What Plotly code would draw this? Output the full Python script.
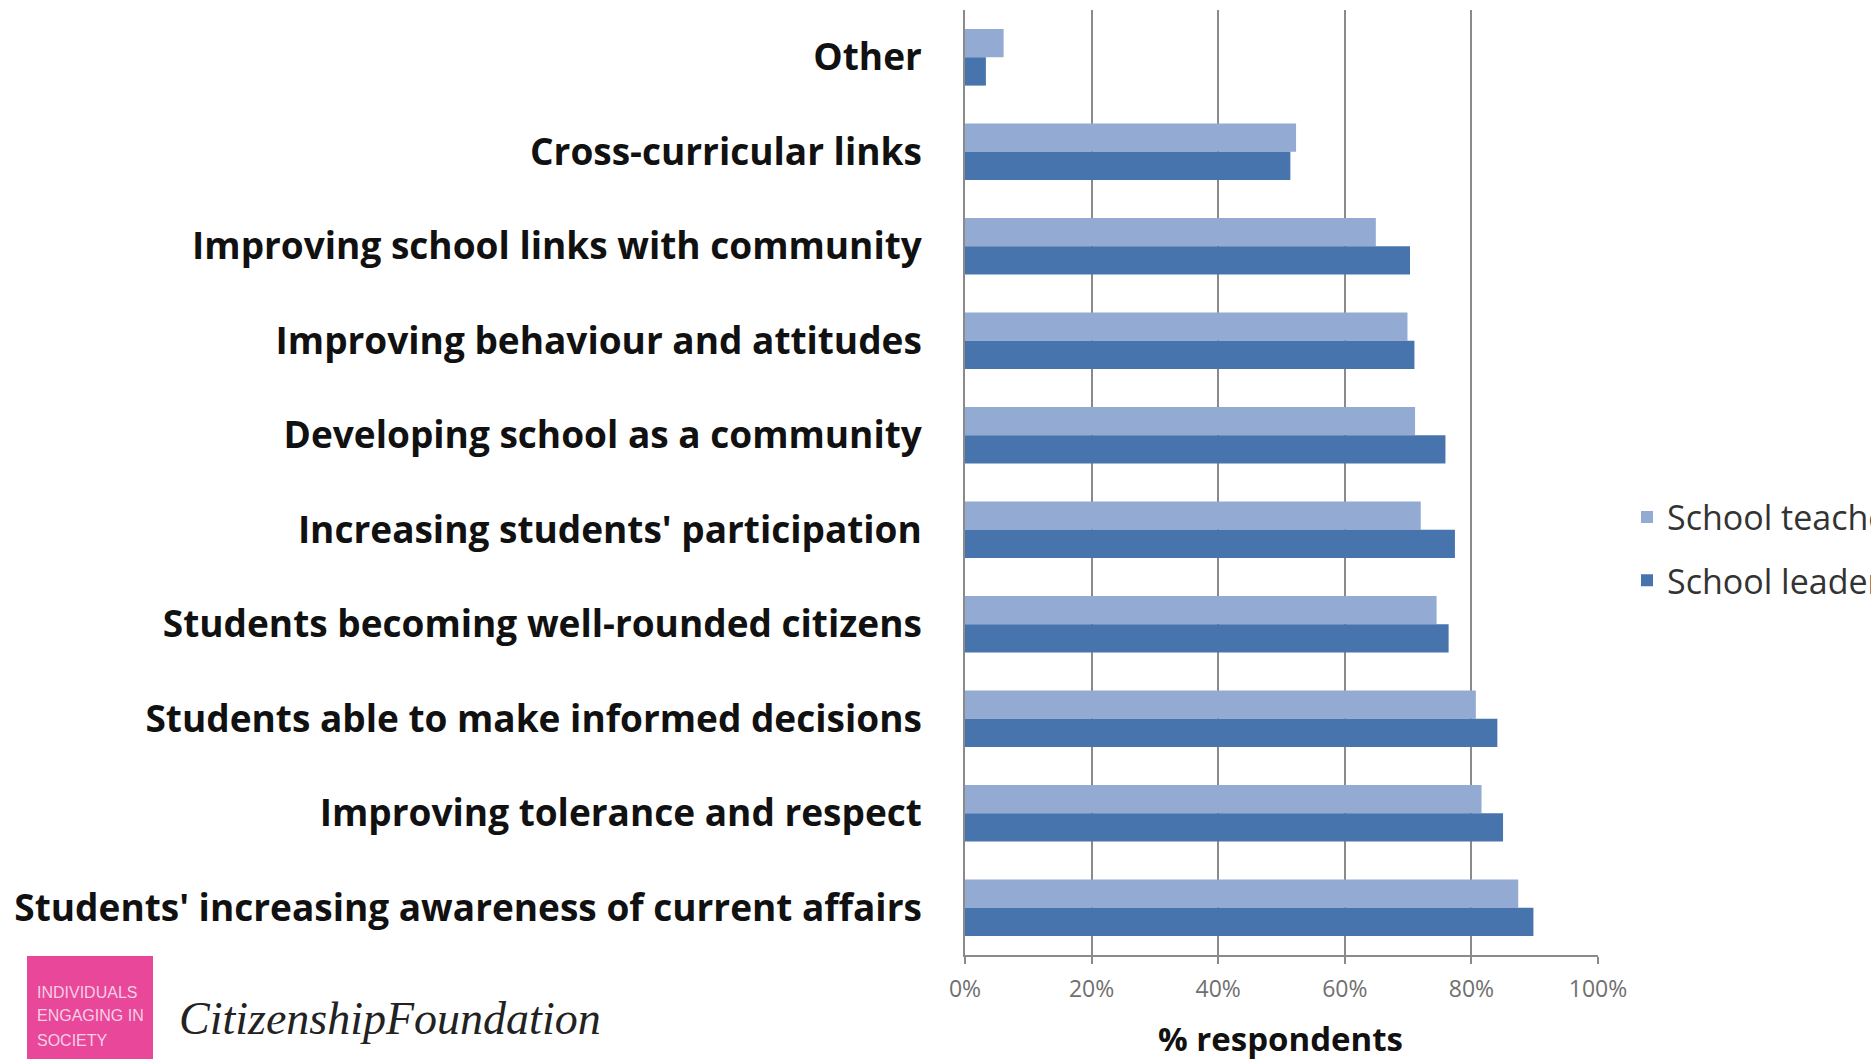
import plotly.graph_objects as go

categories = [
    "Other",
    "Cross-curricular links",
    "Improving school links with community",
    "Improving behaviour and attitudes",
    "Developing school as a community",
    "Increasing students' participation",
    "Students becoming well-rounded citizens",
    "Students able to make informed decisions",
    "Improving tolerance and respect",
    "Students' increasing awareness of current affairs",
]
teachers = [6.1, 52.3, 64.9, 69.9, 71.1, 72.0, 74.5, 80.7, 81.6, 87.4]
leaders = [3.3, 51.4, 70.3, 71.0, 75.9, 77.4, 76.4, 84.1, 85.0, 89.8]
x_ticks = [0, 20, 40, 60, 80, 100]
series_names = ["School teachers", "School leaders"]

W, H = 1871, 1059
L, R, T, B = 965, 1598, 10, 955  # plot area pixel box


def px(x):
    return (x - L) / (R - L)


def py(y):
    return (B - y) / (B - T)


fig = go.Figure()
fig.add_trace(go.Bar(y=categories, x=teachers, orientation="h", name=series_names[0],
                     legendgroup="a",
                     marker=dict(color="#93AAD2", line=dict(width=0))))
fig.add_trace(go.Bar(y=categories, x=leaders, orientation="h", name=series_names[1],
                     legendgroup="b",
                     marker=dict(color="#4874AE", line=dict(width=0))))

fig.update_layout(
    width=W, height=H,
    margin=dict(l=L, r=W - R, t=T, b=H - B, autoexpand=False),
    paper_bgcolor="white", plot_bgcolor="white",
    barmode="group", bargap=0.4, bargroupgap=0,
    font=dict(family="Open Sans, sans-serif", color="#111"),
    showlegend=True,
    legend=dict(x=px(1627), y=py(549), xanchor="left", yanchor="middle",
                font=dict(size=34, family="Open Sans, sans-serif", color="#333"),
                bgcolor="rgba(0,0,0,0)", tracegroupgap=16, traceorder="grouped"),
    xaxis=dict(range=[0, 100], tickvals=x_ticks, ticktext=[f"{v}%" for v in x_ticks],
               showgrid=True, gridcolor="#8a8a8a", gridwidth=1.5,
               showline=True, linecolor="#8a8a8a", linewidth=1.5,
               ticks="outside", ticklen=7, tickcolor="#8a8a8a", tickwidth=1.5,
               tickfont=dict(size=23, color="#707070", family="Open Sans, sans-serif"),
               ticklabelstandoff=6, zeroline=False, fixedrange=True),
    yaxis=dict(autorange="reversed", showline=True, linecolor="#8a8a8a", linewidth=1.5,
               showgrid=False, ticks="", ticklabelstandoff=34,
               tickfont=dict(size=37, color="#111", family="Open Sans, sans-serif", weight="bold"),
               fixedrange=True),
)

# axis title
fig.add_annotation(x=px(1280), y=py(1038), xref="paper", yref="paper", showarrow=False,
                   xanchor="center", yanchor="middle",
                   text="<b>% respondents</b>", font=dict(size=33, color="#111", family="Open Sans, sans-serif"))

# logo block
fig.add_shape(type="rect", xref="paper", yref="paper", x0=px(27), x1=px(153), y0=py(956), y1=py(1065),
              fillcolor="#E8479A", line=dict(width=0), layer="above")
for i, t in enumerate(["INDIVIDUALS", "ENGAGING IN", "SOCIETY"]):
    fig.add_annotation(x=px(35), y=py(992 + i * 24), xref="paper", yref="paper", showarrow=False,
                       xanchor="left", yanchor="middle", text=t,
                       font=dict(size=16, color="#F9CFE4", family="Liberation Sans Narrow, Liberation Sans, sans-serif"))
fig.add_annotation(x=px(177), y=py(1018), xref="paper", yref="paper", showarrow=False,
                   xanchor="left", yanchor="middle",
                   text="<i>CitizenshipFoundation</i>",
                   font=dict(size=46, color="#222", family="Liberation Serif, serif"))

fig.write_html("out.html", config={"displayModeBar": False},
               post_script="document.body.style.margin='0';")
